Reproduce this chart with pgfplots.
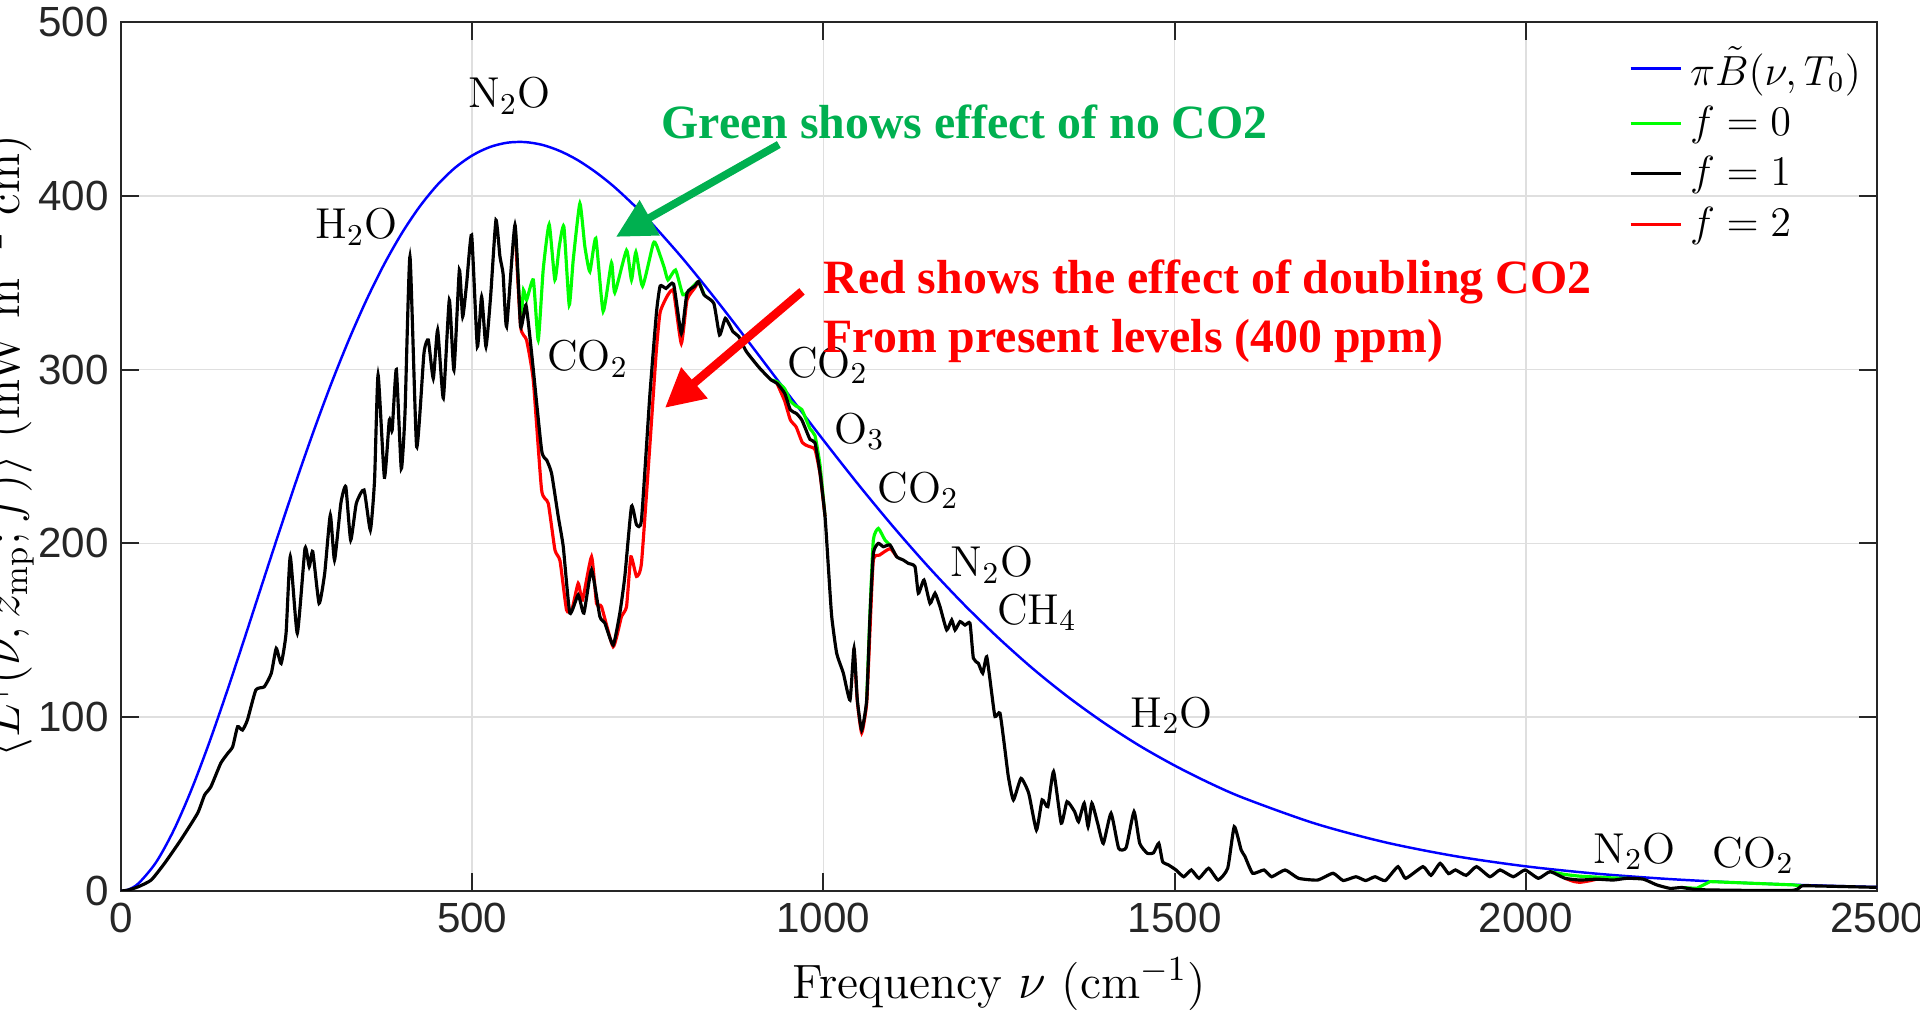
\documentclass[border=0pt]{standalone}
\usepackage{fontspec}
\usepackage{pgfplots}
\pgfplotsset{compat=1.18}
\usetikzlibrary{arrows.meta}
\newfontfamily\ticksans{Liberation Sans}
\newfontfamily\annserif{Liberation Serif}
\definecolor{axgray}{HTML}{262626}
\definecolor{gridgray}{HTML}{DFDFDF}
\definecolor{anngreen}{HTML}{00B050}
\definecolor{lgreen}{HTML}{00FF00}
\begin{document}
\begin{tikzpicture}
\begin{axis}[
  at={(0,0)}, anchor=south west,
  scale only axis, width=17.56cm, height=8.69cm,
  xmin=0, xmax=2500, ymin=0, ymax=500,
  xtick={0,500,...,2500}, ytick={0,100,...,500},
  scaled ticks=false,
  grid=major, major grid style={gridgray, line width=0.5pt},
  axis line style={axgray, line width=0.6pt},
  tick style={axgray, line width=0.6pt},
  tick align=inside, major tick length=0.18cm,
  ticklabel style={font=\ticksans\fontsize{12}{14}\selectfont, text=axgray},
  /pgf/number format/assume math mode=true,
  /pgf/number format/1000 sep={},
  legend style={draw=none, fill=none, inner sep=0pt, outer sep=0pt,
    anchor=north west, at={(rel axis cs:0.8588,0.981)},
    font=\fontsize{12}{14}\selectfont, row sep=0pt,
    nodes={inner sep=2.25pt}},
  legend cell align=left,
  legend image code/.code={\draw[#1] (0cm,0cm) -- (0.5cm,0cm);},
]
\addlegendimage{blue, line width=0.7pt}\addlegendentry{$\pi\tilde{B}(\nu,T_0)$}
\addlegendimage{lgreen, line width=0.9pt}\addlegendentry{$f=0$}
\addlegendimage{black, line width=0.9pt}\addlegendentry{$f=1$}
\addlegendimage{red, line width=0.9pt}\addlegendentry{$f=2$}

% Planck curve
\addplot[blue, line width=0.7pt, smooth, forget plot] coordinates {
(0,0) (10,0.733) (25,4.411) (50,16.548) (75,34.876) (100,57.996) (125,84.66) (150,113.75) (175,144.29) (200,175.40) (225,206.36) (250,236.55) (275,265.43) (300,292.61) (325,317.68) (350,340.5) (375,360.85) (400,378.58) (425,393.66) (450,406.08) (475,415.92) (500,423.18) (525,428.03) (550,430.55) (575,430.91) (600,429.27) (625,425.74) (650,420.56) (675,413.85) (700,405.9) (725,396.63) (750,386.58) (800,363.77) (850,338.75) (900,312.49) (950,285.8) (1000,259.4) (1050,233.74) (1100,209.3) (1150,186.28) (1200,164.9) (1250,145.29) (1300,127.3) (1350,111.13) (1400,96.6) (1450,83.6) (1500,72.19) (1550,62.07) (1600,53.24) (1700,38.81) (1800,28.00) (1900,20.02) (2000,14.19) (2100,9.99) (2200,6.98) (2300,4.85) (2400,3.35) (2500,2.30)};

% f = 0 (green), where it departs from f = 1
\addplot[lgreen, line width=0.9pt, smooth, tension=0.3, forget plot] coordinates {
(560.9,383.2) (568.9,330) (573,345.8) (577.4,340) (587,351.6) (594,317) (601.1,357.6) (609.6,383.5) (617.7,351.6) (623.9,370.7) (630.5,382.3) (638.1,337.2) (643.8,363) (653.3,395.6) (660.4,370.7) (667.5,356.4) (676,375.5) (686.4,333.5) (698.3,361.5) (703,344.3) (719.7,368.6) (726.8,351.6) (733,367.6) (742.5,348) (757.7,372.5) (762.2,371.7) (773,359.2) (778.7,351.6) (789.5,357.3) (800,343) (810,346) (822,350.6) (830.3,342.9)};
\addplot[lgreen, line width=0.9pt, smooth, tension=0.3, forget plot] coordinates {
(925.7,294) (934,293) (944.8,289) (953,282) (961,279) (969.3,277) (980.9,266) (988,262) (995.2,245) (1002.3,215.6)};
\addplot[lgreen, line width=0.9pt, smooth, tension=0.3, forget plot] coordinates {
(1061.6,109.9) (1066.3,160) (1071.1,202) (1078.2,208.6) (1087.7,201.9) (1094.8,199.1)};
\addplot[lgreen, line width=0.9pt, smooth, tension=0.3, forget plot] coordinates {
(2034.5,11.1) (2055.9,9.5) (2077.3,8.5) (2101,8) (2124.7,7.5) (2143.7,7.3)};
\addplot[lgreen, line width=0.9pt, forget plot] coordinates {
(2222,2) (2243.3,1.5) (2262.3,5.4) (2381,3.5) (2392.8,2.9)};

% f = 2 (red), where it departs from f = 1
\addplot[red, line width=0.9pt, smooth, tension=0.3, forget plot] coordinates {
(560.9,383.2) (568.9,324.8) (577.4,317) (586.9,294) (598.8,230.7) (608.3,223) (617.8,196.2) (625,190) (634.3,161.7) (642,162) (650.9,177) (657,167.4) (669.9,192.3) (677,165.5) (684.1,163.6) (700.7,140.6) (712.6,158) (719.7,163.6) (725.9,192.3) (733.9,181) (741,188.7) (752.8,255.6) (762,310) (767.6,333) (778.7,343) (786.7,345) (797.7,315) (805.8,340) (816.8,347) (822.2,350.6)};
\addplot[red, line width=0.9pt, smooth, tension=0.3, forget plot] coordinates {
(933.9,292.1) (944.8,282) (953,271) (961.2,267) (970,258) (978,256) (988,254) (995.2,240) (1002.3,215.6)};
\addplot[red, line width=0.9pt, smooth, tension=0.3, forget plot] coordinates {
(1043.6,139.7) (1048.3,109) (1054.5,91) (1061.6,108) (1066.3,150) (1071.1,190.5) (1080,193.3) (1095,197) (1104.3,192.3)};
\addplot[red, line width=0.9pt, smooth, tension=0.3, forget plot] coordinates {
(2055.9,7.3) (2068,5.5) (2077.3,5) (2090,5.8) (2101,6.8)};

% f = 1 (black)
\addplot[black, line width=0.9pt, smooth, tension=0.3, forget plot] coordinates {
(0,0) (10,0.5) (25,2.5) (43,6.3) (62,15.9) (85,29.3) (109,44.7) (119,55.2) (128,60) (142,73.5) (152,79.2) (159,83) (166,94.5) (173,92.6) (180,98.4) (192,115.7) (204,117.5) (214,125.3) (221,139.6) (228,130.9) (235,148.3) (241,192.4) (251,148.3) (262,197.2) (268,186.6) (273,195.3) (282,165.5) (290,182.8) (298,216.3) (304,190.4) (313,223.1) (320,232.6) (327,201.9) (335,223) (346,230.7) (355,207.7) (361,236.5) (366,297) (375,238) (382,271) (386,265) (392,300) (399,243) (404.3,274.8) (411.4,365) (420.9,255.6) (431.3,309.3) (437.5,317) (444.6,294.9) (450.8,322.8) (458.9,283.6) (467.4,340) (474,299.7) (481.7,357.3) (486.4,330.4) (492.1,349.6) (499.2,377.4) (507.3,313.2) (513.4,342) (519.6,313.2) (526.2,342) (533.8,386) (539.5,365) (544,355) (549,324.8) (560.9,383.2) (568.9,324.8) (576.5,337.2) (584.6,309.4) (598.8,253.7) (606,248) (613,240.3) (622.5,215.4) (629.6,198.2) (639,159.9) (650.9,170.4) (659,159.9) (669.9,184.8) (681.7,158) (688.8,154.2) (700.7,141.5) (710.2,159.9) (717.3,181) (726.8,221.3) (733.9,210.8) (741,213.6) (752.8,284.7) (762.3,332.7) (767.6,348.1) (775.9,346.7) (786.7,349.2) (797.7,320.8) (805.8,343.9) (816.8,348) (822.2,350.6) (830.3,342.9) (844,338.1) (852.2,319.9) (860.4,329.5) (871.3,321.8) (879.5,319) (890.3,310.4) (909.3,300.8) (925.7,294) (933.9,292.1) (944.8,286.4) (953,276.8) (961.2,274.8) (969.3,271) (980.9,259.8) (988,257.9) (995.2,240.6) (1002.3,215.6) (1007,186.8) (1011.8,158) (1018.9,136.8) (1028.4,125.3) (1037.9,109.9) (1043.6,139.7) (1048.3,109.9) (1054.5,92.6) (1061.6,109.9) (1066.3,157.9) (1071.1,194.3) (1078.2,200) (1085.3,198.1) (1094.8,199.1) (1104.3,192.3) (1113.8,190.4) (1120.9,188.5) (1130.4,186.6) (1135.2,171.3) (1143.2,178.9) (1151.8,165.5) (1158.9,171.3) (1166,163.6) (1175.5,150.2) (1182.7,155.9) (1187.4,150.2) (1194.5,155) (1201.6,153) (1208.7,154) (1213.5,133.9) (1220.6,131) (1226.8,125.3) (1232.5,134.8) (1239.6,113.8) (1244.3,100.4) (1251.4,102.3) (1258.5,81.1) (1263.3,65.8) (1270.5,52.4) (1281.3,64.8) (1292.3,56.2) (1303.3,35.1) (1311.4,52.4) (1319.5,48.5) (1327.7,68.7) (1338.6,39) (1346.8,51.4) (1357.7,45.6) (1363.2,39.9) (1371.3,50.5) (1376.8,37) (1382.2,50.5) (1390.4,39) (1398.5,27.4) (1409.5,44.7) (1420.3,24.6) (1431,25) (1442.2,45.6) (1450.3,27.4) (1461.1,21.7) (1470,22) (1477.5,27.4) (1482.9,16.9) (1491.2,15) (1502,12.1) (1513,8.2) (1523.8,12.1) (1534.7,7.3) (1548.4,13.1) (1562,6.3) (1575.6,13.1) (1584.9,37) (1594.7,23.6) (1600,20) (1611.1,10.2) (1627.3,12.1) (1638.2,8.2) (1657.3,12.1) (1676.4,7.3) (1703.6,6.3) (1725.5,10.2) (1740,6) (1758.1,8.2) (1772,6) (1785.4,8.2) (1800,6) (1818,14) (1829,7.3) (1853.5,14) (1865,9) (1878,15.9) (1890,10) (1899.8,12.1) (1915,9) (1929.8,14) (1948.9,8.2) (1963.3,12.1) (1982.2,8.2) (1998.9,12.1) (2017.9,7.3) (2034.5,11.1) (2055.9,7.3) (2077.3,6.3) (2101,6.8) (2124.7,6.3) (2143.7,7.3) (2167.4,6.8) (2186.4,3.5) (2205.4,1.5) (2222,2) (2243.3,0.8) (2300,0.4) (2381,0.4) (2392.8,2.9) (2414.2,2.9) (2499.6,2.1)};

% molecule labels
\begin{scope}[every node/.style={font=\fontsize{12.3}{14}\selectfont, anchor=base, inner sep=0pt}]
\node at (axis cs:553,450.6) {$\mathrm{N_2O}$};
\node at (axis cs:335,375.3) {$\mathrm{H_2O}$};
\node at (axis cs:664.5,299.2) {$\mathrm{CO_2}$};
\node at (axis cs:1006,295.6) {$\mathrm{CO_2}$};
\node at (axis cs:1051.5,257.6) {$\mathrm{O_3}$};
\node at (axis cs:1135,223.8) {$\mathrm{CO_2}$};
\node at (axis cs:1240,180.8) {$\mathrm{N_2O}$};
\node at (axis cs:1304,153.4) {$\mathrm{CH_4}$};
\node at (axis cs:1496,94.1) {$\mathrm{H_2O}$};
\node at (axis cs:2155,15.9) {$\mathrm{N_2O}$};
\node at (axis cs:2324,13.8) {$\mathrm{CO_2}$};
\end{scope}

% annotations
\draw[anngreen, line width=2.2pt, -{Triangle[length=11pt,width=11pt]}] (axis cs:936.5,429.5) -- (axis cs:704.8,376.4);
\draw[red, line width=2.4pt, -{Triangle[length=11pt,width=11pt]}] (axis cs:969.5,345) -- (axis cs:774.5,278);
\begin{scope}[every node/.style={font=\annserif\bfseries\fontsize{13.6}{16}\selectfont, anchor=base west, inner sep=0pt}]
\node[text=anngreen] at (axis cs:768.8,433) {Green shows effect of no CO2};
\node[text=red] at (axis cs:999.4,343.5) {Red shows the effect of doubling CO2};
\node[text=red] at (axis cs:999.4,309.8) {From present levels (400 ppm)};
\end{scope}
\end{axis}
\node[font=\fontsize{13.7}{16}\selectfont, anchor=base, inner sep=0pt] at (8.78cm,-1.08cm) {Frequency $\nu$ (cm$^{-1}$)};
\node[rotate=90, font=\fontsize{14}{16}\selectfont, anchor=base, inner sep=0pt] at (-1.01cm,4.45cm) {$\langle L^{\uparrow}(\nu, z_{\mathrm{mp}}; f)\rangle$ (mW m$^{-2}$ cm)};
\pgfresetboundingbox
\path[use as bounding box] (-1.21cm,-1.23cm) rectangle (17.99cm,8.91cm);
\end{tikzpicture}
\end{document}
